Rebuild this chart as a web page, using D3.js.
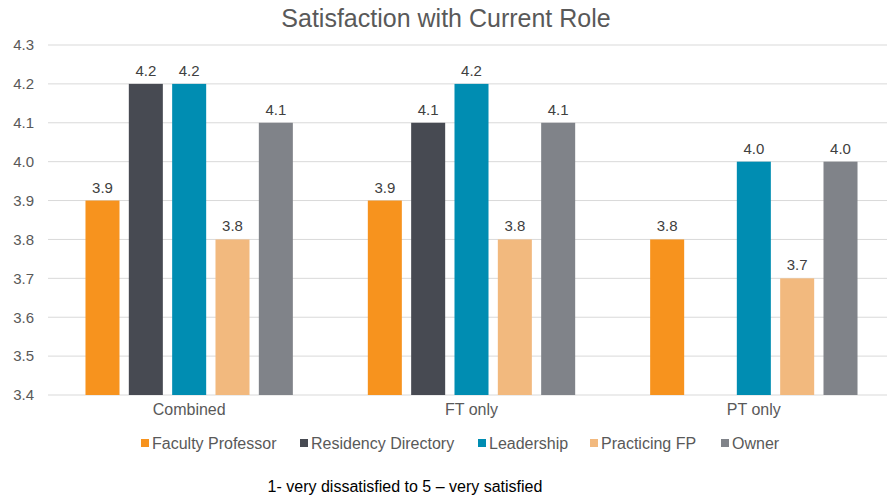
<!DOCTYPE html>
<html>
<head>
<meta charset="utf-8">
<script src="https://cdn.jsdelivr.net/npm/d3@7"></script>
<style>
  body { margin: 0; background: #fff; }
  svg { font-family: "Liberation Sans", Arial, sans-serif; }
</style>
</head>
<body>
<div id="chart"></div>
<script>
// categories and series
const groups = ["Combined", "FT only", "PT only"];
const seriesNames = ["Faculty Professor", "Residency Directory", "Leadership", "Practicing FP", "Owner"];
const seriesColors = ["#F7931E", "#474A52", "#008DB2", "#F2B97E", "#808389"];

// values per series (null = no bar)
const facultyProfessor = [3.9, 3.9, 3.8];
const residencyDirectory = [4.2, 4.1, null];
const leadership = [4.2, 4.2, 4.0];
const practicingFP = [3.8, 3.8, 3.7];
const owner = [4.1, 4.1, 4.0];

const yTicks = [3.4, 3.5, 3.6, 3.7, 3.8, 3.9, 4.0, 4.1, 4.2, 4.3];

const seriesValues = [facultyProfessor, residencyDirectory, leadership, practicingFP, owner];

const data = [];
groups.forEach((g, gi) => {
  seriesNames.forEach((s, si) => {
    const v = seriesValues[si][gi];
    if (v !== null) data.push({ group: g, series: s, value: v, color: seriesColors[si] });
  });
});

const width = 887, height = 500;
const svg = d3.select("#chart").append("svg")
  .attr("width", width)
  .attr("height", height);

const x0 = d3.scaleBand().domain(groups).range([48, 895]).padding(0);
const x1 = d3.scaleBand().domain(seriesNames).range([0, x0.bandwidth()])
  .paddingInner(0.215).paddingOuter(0.865);
const y = d3.scaleLinear().domain([3.4, 4.3]).range([395, 45]);

// gridlines
svg.append("g")
  .selectAll("line")
  .data(yTicks)
  .join("line")
  .attr("x1", 48)
  .attr("x2", 887)
  .attr("y1", d => y(d))
  .attr("y2", d => y(d))
  .attr("stroke", "#d9d9d9")
  .attr("stroke-width", 1);

// y axis labels
const yAxis = d3.axisLeft(y).tickValues(yTicks).tickFormat(d3.format(".1f")).tickSize(0).tickPadding(0);
svg.append("g")
  .attr("transform", "translate(34,0)")
  .call(yAxis)
  .call(g => g.select(".domain").remove())
  .selectAll("text")
  .attr("font-size", 15)
  .attr("fill", "#595959")
  .attr("font-family", "Liberation Sans, Arial, sans-serif");

// x axis labels
const xAxis = d3.axisBottom(x0).tickSize(0).tickPadding(0);
svg.append("g")
  .attr("transform", "translate(0,404)")
  .call(xAxis)
  .call(g => g.select(".domain").remove())
  .selectAll("text")
  .attr("font-size", 16)
  .attr("fill", "#595959")
  .attr("font-family", "Liberation Sans, Arial, sans-serif");

// bars
svg.append("g")
  .selectAll("rect")
  .data(data)
  .join("rect")
  .attr("x", d => x0(d.group) + x1(d.series))
  .attr("y", d => y(d.value))
  .attr("width", x1.bandwidth())
  .attr("height", d => y(3.4) - y(d.value))
  .attr("fill", d => d.color);

// value labels
svg.append("g")
  .selectAll("text")
  .data(data)
  .join("text")
  .attr("x", d => x0(d.group) + x1(d.series) + x1.bandwidth() / 2)
  .attr("y", d => y(d.value) - 8)
  .attr("text-anchor", "middle")
  .attr("font-size", 15)
  .attr("fill", "#404040")
  .text(d => d3.format(".1f")(d.value));

// title
svg.append("text")
  .attr("x", 446)
  .attr("y", 27)
  .attr("text-anchor", "middle")
  .attr("font-size", 25)
  .attr("fill", "#595959")
  .text("Satisfaction with Current Role");

// legend
const legendX = [141, 300, 478, 590, 721];
const legend = svg.append("g")
  .selectAll("g")
  .data(seriesNames)
  .join("g")
  .attr("transform", (d, i) => `translate(${legendX[i]},443)`);
legend.append("rect")
  .attr("x", 0)
  .attr("y", -4)
  .attr("width", 8)
  .attr("height", 8)
  .attr("fill", (d, i) => seriesColors[i]);
legend.append("text")
  .attr("x", 11)
  .attr("y", 5.5)
  .attr("font-size", 16)
  .attr("fill", "#595959")
  .text(d => d);

// caption
svg.append("text")
  .attr("x", 405)
  .attr("y", 492)
  .attr("text-anchor", "middle")
  .attr("font-size", 16)
  .attr("fill", "#000")
  .text("1- very dissatisfied to 5 \u2013 very satisfied");
</script>
</body>
</html>
